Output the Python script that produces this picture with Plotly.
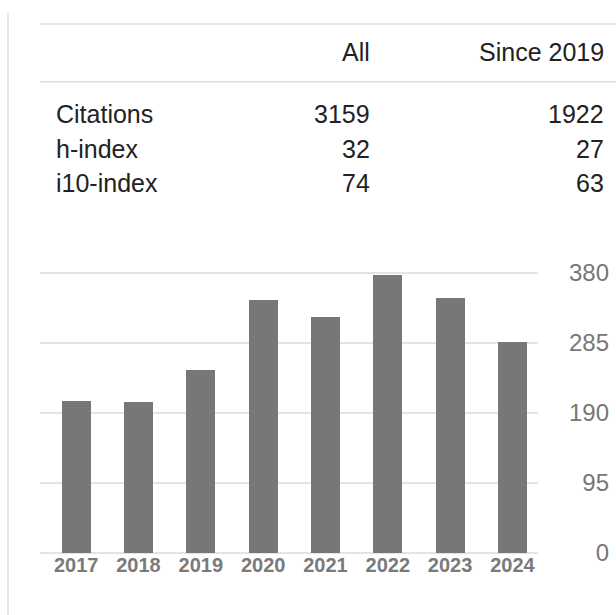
import plotly.graph_objects as go

# ---- data ----
years = ["2017", "2018", "2019", "2020", "2021", "2022", "2023", "2024"]
citations_per_year = [207, 205, 248, 344, 320, 377, 346, 287]
y_tick_values = [0, 95, 190, 285, 380]
y_tick_labels = ["0", "95", "190", "285", "380"]

table_columns = ["All", "Since 2019"]
table_rows = ["Citations", "h-index", "i10-index"]
values_all = ["3159", "32", "74"]
values_since = ["1922", "27", "63"]

W, H = 616, 615
FONT = "Liberation Sans, Arial, sans-serif"


def px(x):
    return x / W


def py(y):
    return 1 - y / H


fig = go.Figure()
fig.add_trace(go.Bar(
    x=years, y=citations_per_year, width=0.465,
    marker=dict(color="#777777", line=dict(width=0)),
    hoverinfo="x+y",
))

# y scale: 0 at 552.7px, 0.7368 px per unit
y0_px = 552.7
scale = 70.0 / 95.0
ymin, ymax = -25, 410
dom_bottom = py(y0_px - ymin * scale)
dom_top = py(y0_px - ymax * scale)

fig.update_layout(
    width=W, height=H,
    margin=dict(l=0, r=0, t=0, b=0),
    paper_bgcolor="white", plot_bgcolor="white",
    showlegend=False,
    font=dict(family=FONT),
    bargap=0,
    xaxis=dict(
        domain=[px(40), px(538)],
        type="category",
        range=[-0.58, 7.41],
        anchor="free", position=py(551),
        showgrid=False, zeroline=False, showline=False,
        ticks="", tickfont=dict(size=20, color="#7a7a7a", weight="bold"),
        fixedrange=True,
    ),
    yaxis=dict(
        domain=[dom_bottom, dom_top],
        range=[ymin, ymax],
        side="right", anchor="free", position=px(612),
        ticklabelposition="inside",
        tickvals=y_tick_values, ticktext=y_tick_labels,
        tickfont=dict(size=24, color="#777777"),
        showgrid=True, gridcolor="#e4e4e4", gridwidth=1.5,
        zeroline=False, showline=False, ticks="",
        fixedrange=True,
    ),
)

shapes = []
# left vertical rule
shapes.append(dict(type="line", xref="paper", yref="paper",
                   x0=px(8), x1=px(8), y0=py(13), y1=py(615),
                   line=dict(color="#dddddd", width=1.5)))
# table rules
for yy in (24, 81.7):
    shapes.append(dict(type="line", xref="paper", yref="paper",
                       x0=px(40), x1=1.0, y0=py(yy), y1=py(yy),
                       line=dict(color="#dddddd", width=1.5)))
fig.update_layout(shapes=shapes)

ann = []
tcolor = "#222222"
tsize = 25
col_x = [372, 606]
for cx, name in zip(col_x, table_columns):
    ann.append(dict(text=name, x=px(cx), y=py(52.5), xref="paper", yref="paper",
                    xanchor="right", yanchor="middle", showarrow=False,
                    font=dict(size=tsize, color=tcolor, family=FONT)))
row_y = [113.5, 148.5, 183.5]
for ry, label, va, vs in zip(row_y, table_rows, values_all, values_since):
    ann.append(dict(text=label, x=px(54), y=py(ry), xref="paper", yref="paper",
                    xanchor="left", yanchor="middle", showarrow=False,
                    font=dict(size=tsize, color=tcolor, family=FONT)))
    ann.append(dict(text=va, x=px(col_x[0]), y=py(ry), xref="paper", yref="paper",
                    xanchor="right", yanchor="middle", showarrow=False,
                    font=dict(size=tsize, color=tcolor, family=FONT)))
    ann.append(dict(text=vs, x=px(col_x[1]), y=py(ry), xref="paper", yref="paper",
                    xanchor="right", yanchor="middle", showarrow=False,
                    font=dict(size=tsize, color=tcolor, family=FONT)))
fig.update_layout(annotations=ann)

fig.write_html(
    "out.html",
    config={"displayModeBar": False},
    post_script="document.body.style.margin='0';document.body.style.overflow='hidden';",
)
